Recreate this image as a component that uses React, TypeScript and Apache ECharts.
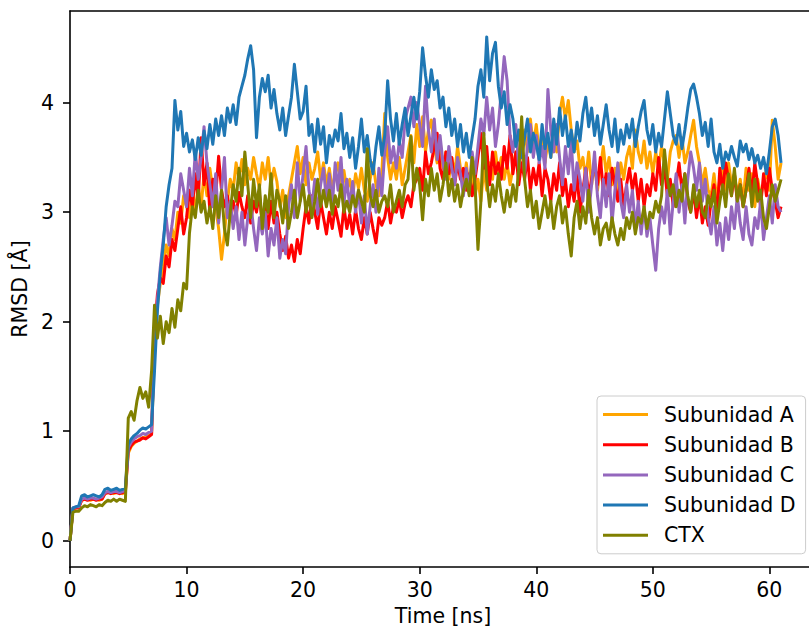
import React, { useEffect, useRef } from "react";
import * as echarts from "echarts";

// Sampling step of the trajectory (ns) — one value every 0.25 ns from 0 to 61 ns
const STEP_NS = 0.25;

const subA: number[] = [
  0, 0.29, 0.30, 0.31, 0.37, 0.38, 0.38, 0.37, 0.38, 0.38, 0.37, 0.38, 0.43, 0.44, 0.44, 0.43,
  0.44, 0.44, 0.43, 0.44, 0.80, 0.86, 0.89, 0.91, 0.93, 0.94, 0.95, 0.96, 0.98, 1.75, 2.15, 2.35,
  2.50, 2.70, 2.60, 2.85, 2.75, 3.00, 2.90, 3.15, 3.05, 2.95, 3.20, 3.00, 3.25, 3.05, 3.35, 3.15,
  3.40, 3.20, 3.05, 2.85, 2.57, 2.80, 3.10, 3.30, 3.20, 3.45, 3.30, 3.48, 3.25, 3.40, 3.30, 3.50,
  3.35, 3.22, 3.45, 3.30, 3.50, 3.25, 3.40, 3.28, 3.05, 3.20, 2.95, 3.15, 3.30, 3.45, 3.60, 3.35,
  3.50, 3.25, 3.45, 3.30, 3.40, 3.55, 3.30, 3.45, 3.25, 3.40, 3.20, 3.35, 3.45, 3.25, 3.38, 3.20,
  3.30, 3.15, 3.35, 3.22, 3.40, 3.20, 3.10, 3.30, 3.45, 3.25, 3.15, 3.35, 3.90, 3.50, 3.30, 3.45,
  3.30, 3.50, 3.25, 3.40, 3.55, 3.70, 3.45, 3.80, 3.60, 3.87, 3.55, 3.75, 3.84, 3.60, 3.45, 3.65,
  3.40, 3.55, 3.30, 3.50, 3.35, 3.60, 3.40, 3.25, 3.45, 3.20, 3.35, 3.15, 3.30, 3.10, 3.40, 3.20,
  3.45, 3.30, 3.55, 3.35, 3.50, 3.30, 3.45, 3.25, 3.40, 3.55, 3.35, 3.60, 3.75, 3.55, 3.85, 3.60,
  3.80, 3.55, 3.70, 3.45, 3.65, 3.50, 3.75, 3.55, 3.90, 4.05, 3.85, 4.02, 3.75, 3.55, 3.65, 3.40,
  3.50, 3.30, 3.55, 3.25, 3.45, 3.20, 3.40, 3.60, 3.35, 3.50, 3.25, 3.40, 3.20, 3.45, 3.30, 3.50,
  3.60, 3.40, 3.75, 3.55, 3.45, 3.65, 3.40, 3.55, 3.35, 3.55, 3.40, 3.60, 3.45, 3.30, 3.55, 3.65,
  3.70, 3.50, 3.68, 3.45, 3.55, 3.70, 3.84, 3.60, 3.45, 3.25, 3.40, 3.20, 3.15, 3.35, 3.10, 3.30,
  3.40, 3.20, 3.45, 3.25, 3.35, 3.15, 3.30, 3.10, 3.40, 3.20, 3.35, 3.05, 3.30, 3.15, 3.25, 3.40,
  3.20, 3.84, 3.60, 3.30, 3.45,
];

const subB: number[] = [
  0, 0.29, 0.30, 0.30, 0.37, 0.38, 0.37, 0.38, 0.38, 0.37, 0.38, 0.38, 0.43, 0.44, 0.43, 0.44,
  0.44, 0.43, 0.44, 0.45, 0.82, 0.87, 0.90, 0.91, 0.92, 0.94, 0.93, 0.95, 0.97, 1.90, 2.25, 2.40,
  2.35, 2.60, 2.50, 2.75, 2.65, 2.85, 3.05, 2.80, 2.95, 3.20, 3.05, 3.35, 3.10, 3.68, 3.25, 3.45,
  3.00, 3.30, 3.15, 3.51, 3.20, 3.05, 3.15, 2.98, 3.10, 2.96, 3.18, 3.05, 2.95, 3.15, 2.90, 3.10,
  3.00, 3.17, 2.88, 3.05, 2.85, 3.10, 2.90, 3.00, 2.80, 2.65, 2.78, 2.58, 2.70, 2.55, 2.75, 2.62,
  2.85, 3.05, 2.90, 3.15, 3.00, 2.85, 3.10, 2.95, 2.80, 3.00, 2.85, 3.05, 2.92, 2.78, 3.05, 2.85,
  2.98, 2.80, 3.02, 2.85, 2.75, 2.95, 2.80, 3.00, 2.85, 2.72, 2.95, 2.88, 2.95, 3.10, 2.90, 3.05,
  3.00, 3.12, 2.95, 3.08, 3.15, 3.05, 3.25, 3.30, 3.40, 3.20, 3.55, 3.35, 3.45, 3.60, 3.72, 3.40,
  3.30, 3.55, 3.35, 3.50, 3.25, 3.45, 3.30, 3.40, 3.20, 3.35, 3.15, 3.30, 3.50, 3.72, 3.40, 3.60,
  3.25, 3.55, 3.35, 3.45, 3.30, 3.60, 3.40, 3.70, 3.35, 3.55, 3.25, 3.45, 3.30, 3.50, 3.20, 3.40,
  3.25, 3.45, 3.15, 3.40, 3.30, 3.10, 3.35, 3.20, 3.45, 3.15, 3.30, 3.05, 3.25, 3.10, 3.35, 3.00,
  3.20, 3.40, 3.15, 3.30, 3.45, 3.25, 3.50, 3.20, 3.35, 3.15, 3.40, 3.25, 3.10, 3.30, 3.05, 3.25,
  3.40, 3.20, 3.35, 3.10, 3.30, 3.05, 3.25, 3.15, 3.35, 3.20, 3.50, 3.25, 3.40, 3.15, 3.30, 3.05,
  3.25, 3.45, 3.20, 3.35, 3.10, 3.00, 3.20, 2.95, 3.15, 2.90, 3.05, 2.88, 3.10, 3.25, 2.95, 3.40,
  3.20, 3.45, 3.30, 3.15, 3.35, 3.10, 3.25, 3.05, 3.20, 3.40, 3.15, 3.45, 3.25, 3.05, 3.35, 3.15,
  3.40, 3.20, 3.10, 2.95, 3.05,
];

const subC: number[] = [
  0, 0.30, 0.31, 0.31, 0.38, 0.39, 0.38, 0.39, 0.39, 0.38, 0.39, 0.40, 0.44, 0.45, 0.44, 0.45,
  0.45, 0.44, 0.45, 0.46, 0.85, 0.90, 0.93, 0.95, 0.96, 0.98, 0.97, 0.99, 1.00, 1.85, 2.20, 2.50,
  2.75, 2.95, 2.70, 2.88, 3.10, 3.05, 3.35, 3.20, 3.05, 3.40, 3.15, 3.55, 3.30, 3.50, 3.78, 3.45,
  3.25, 3.05, 3.35, 2.90, 3.20, 3.50, 2.95, 3.10, 2.85, 3.05, 2.75, 3.00, 2.70, 2.95, 3.10, 2.85,
  2.65, 2.95, 2.80, 3.00, 2.60, 2.85, 2.70, 2.95, 2.58, 2.75, 2.62, 3.05, 3.25, 2.95, 3.45, 3.10,
  3.35, 3.60, 3.20, 3.05, 3.30, 2.98, 3.25, 3.40, 3.10, 3.35, 3.05, 3.45, 3.20, 3.50, 3.08, 3.30,
  3.05, 3.28, 3.00, 3.20, 2.90, 3.15, 2.80, 3.05, 3.25, 3.00, 3.40, 3.15, 3.55, 3.78, 3.45, 3.60,
  3.40, 3.65, 3.50, 3.85, 3.95, 4.05, 3.78, 4.00, 3.80, 3.60, 4.15, 3.75, 3.55, 3.85, 3.48, 3.70,
  3.45, 3.30, 3.60, 3.40, 3.25, 3.50, 3.35, 3.15, 3.40, 3.20, 3.55, 3.35, 3.60, 3.85, 3.70, 4.05,
  3.75, 3.95, 3.60, 3.80, 4.10, 4.42, 4.20, 3.70, 3.55, 3.80, 3.40, 3.65, 3.35, 3.60, 3.80, 3.50,
  3.70, 3.45, 3.60, 3.40, 4.12, 3.75, 3.55, 3.80, 3.50, 3.25, 3.60, 3.35, 3.65, 3.20, 3.45, 3.30,
  3.10, 3.40, 3.00, 3.25, 3.55, 3.15, 2.95, 3.30, 3.05, 3.35, 2.90, 3.20, 3.45, 3.10, 2.95, 3.25,
  3.00, 3.20, 2.85, 3.10, 2.80, 3.05, 2.78, 2.95, 2.70, 2.47, 2.85, 3.05, 2.90, 3.20, 2.80, 3.10,
  3.35, 3.00, 3.25, 2.90, 3.30, 3.55, 3.40, 3.20, 3.45, 3.10, 3.30, 2.95, 2.80, 3.05, 2.70, 2.90,
  2.65, 2.95, 2.75, 3.05, 2.85, 3.15, 2.90, 2.75, 3.05, 2.80, 2.70, 2.95, 2.85, 3.10, 2.75, 2.95,
  3.15, 2.90, 3.25, 3.05, 3.00,
];

const subD: number[] = [
  0, 0.30, 0.31, 0.32, 0.41, 0.42, 0.40, 0.41, 0.42, 0.41, 0.40, 0.42, 0.47, 0.48, 0.46, 0.47,
  0.48, 0.46, 0.47, 0.48, 0.88, 0.93, 0.96, 0.98, 1.01, 1.03, 1.02, 1.04, 1.06, 1.55, 2.10, 2.45,
  2.70, 3.05, 3.25, 3.40, 4.02, 3.75, 3.92, 3.60, 3.72, 3.55, 3.66, 3.48, 3.68, 3.52, 3.74, 3.58,
  3.80, 3.62, 3.85, 3.70, 3.88, 3.70, 3.95, 3.82, 3.98, 3.80, 4.05, 4.15, 4.25, 4.40, 4.52, 4.30,
  3.68, 4.05, 4.22, 4.10, 4.25, 3.95, 4.12, 3.90, 3.75, 3.95, 3.70, 3.88, 4.05, 4.35, 4.10, 3.85,
  3.92, 4.15, 3.70, 3.80, 3.55, 3.85, 3.62, 3.78, 3.45, 3.70, 3.60, 3.75, 3.65, 3.90, 3.58, 3.72,
  3.50, 3.68, 3.40, 3.60, 3.85, 3.55, 3.70, 3.48, 3.35, 3.60, 3.78, 3.52, 3.70, 4.20, 3.85, 3.65,
  3.90, 3.62, 3.80, 3.95, 3.70, 3.88, 4.05, 3.85, 4.10, 4.50, 4.25, 4.05, 4.30, 4.12, 4.20, 3.95,
  4.05, 3.78, 3.95, 3.70, 3.85, 3.60, 3.80, 3.55, 3.72, 3.50, 3.68, 3.85, 4.15, 4.30, 4.05, 4.60,
  4.20, 4.45, 4.55, 4.15, 3.95, 4.10, 3.80, 3.98, 3.85, 3.60, 3.75, 3.50, 3.68, 3.85, 3.55, 3.72,
  3.62, 3.48, 3.80, 3.58, 3.72, 3.50, 3.85, 3.62, 3.95, 3.70, 3.88, 3.60, 3.75, 3.55, 3.82, 3.65,
  3.90, 4.05, 3.78, 3.95, 3.70, 3.88, 3.62, 3.80, 3.98, 3.75, 3.60, 3.85, 3.55, 3.75, 3.62, 3.80,
  3.68, 3.85, 3.60, 3.78, 3.92, 4.02, 3.75, 3.62, 3.80, 3.55, 3.72, 3.60, 3.85, 4.10, 3.90, 3.70,
  3.62, 3.80, 3.58, 3.75, 3.95, 4.12, 4.17, 4.05, 3.90, 3.70, 3.82, 3.60, 3.85, 3.55, 3.45, 3.62,
  3.40, 3.55, 3.48, 3.60, 3.50, 3.42, 3.65, 3.55, 3.62, 3.48, 3.58, 3.45, 3.52, 3.40, 3.50, 3.35,
  3.55, 3.78, 3.85, 3.70, 3.45,
];

const ctx: number[] = [
  0, 0.26, 0.27, 0.27, 0.30, 0.32, 0.31, 0.33, 0.32, 0.31, 0.33, 0.32, 0.35, 0.37, 0.36, 0.38,
  0.36, 0.38, 0.37, 0.36, 1.12, 1.18, 1.10, 1.28, 1.40, 1.30, 1.36, 1.22, 1.55, 2.15, 1.85, 2.05,
  1.80, 2.00, 1.90, 2.12, 1.95, 2.20, 2.10, 2.35, 2.30, 2.81, 3.05, 2.95, 3.20, 3.00, 3.10, 2.90,
  3.05, 2.85, 3.15, 2.95, 3.20, 2.85, 2.70, 3.00, 3.25, 3.10, 3.40, 3.15, 3.55, 3.25, 2.95, 3.30,
  3.05, 3.25, 2.85, 3.15, 3.00, 3.35, 2.95, 3.20, 3.10, 2.90, 3.15, 2.85, 3.00, 3.20, 2.95, 3.10,
  3.25, 3.00, 3.15, 2.95, 3.10, 3.30, 3.05, 3.20, 3.05, 3.20, 2.98, 3.15, 3.05, 3.25, 3.00, 3.10,
  3.00, 3.15, 3.05, 3.20, 3.10, 3.00, 3.58, 3.15, 3.05, 3.20, 3.00, 3.10, 3.15, 3.05, 3.25, 3.00,
  3.10, 3.20, 3.05, 3.25, 3.30, 3.69, 3.20, 3.40, 3.25, 2.93, 3.30, 3.15, 3.40, 3.20, 3.35, 3.10,
  3.25, 3.45, 3.15, 3.30, 3.10, 3.25, 3.05, 3.20, 3.30, 3.15, 3.50, 3.25, 2.66, 3.10, 3.72, 3.30,
  3.05, 3.25, 3.10, 3.35, 3.15, 3.00, 3.20, 3.05, 3.25, 3.10, 3.40, 3.87, 3.30, 3.05, 3.20, 2.95,
  3.10, 2.85, 3.00, 3.15, 2.95, 3.10, 2.85, 3.05, 3.15, 2.90, 3.05, 2.80, 2.60, 2.95, 3.10, 2.85,
  3.05, 2.90, 3.20, 2.95, 2.80, 2.95, 2.70, 2.85, 2.90, 2.75, 2.95, 2.80, 2.70, 2.85, 2.75, 2.95,
  2.85, 3.00, 2.80, 2.95, 2.90, 3.05, 2.85, 3.00, 2.95, 3.10, 3.00, 3.15, 3.57, 3.30, 3.15, 3.25,
  3.05, 3.20, 3.10, 3.35, 3.15, 3.00, 3.25, 3.05, 3.20, 3.00, 2.95, 3.15, 3.05, 3.20, 2.90, 3.10,
  3.25, 3.05, 3.35, 3.15, 3.40, 3.10, 3.25, 3.05, 3.20, 3.35, 3.05, 3.30, 3.10, 3.20, 2.95, 2.85,
  3.05, 3.25, 3.10, 3.20, 3.30,
];

const seriesNames = ["Subunidad A", "Subunidad B", "Subunidad C", "Subunidad D", "CTX"];
const seriesValues = [subA, subB, subC, subD, ctx];
const seriesColors = ["#ffa500", "#ff0000", "#9467bd", "#1f77b4", "#808000"];
const xTicks = [0, 10, 20, 30, 40, 50, 60];
const yTicks = [0, 1, 2, 3, 4];

const FONT = "DejaVu Sans";

export default function App() {
  const ref = useRef<HTMLDivElement>(null);
  useEffect(() => {
    document.body.style.margin = "0";
    const chart = echarts.init(ref.current!, null, { renderer: "svg" });
    const axisLineStyle = { color: "#000", width: 1.6 };
    chart.setOption({
      animation: false,
      backgroundColor: "#fff",
      textStyle: { fontFamily: FONT },
      grid: {
        left: 70,
        top: 11,
        width: 746,
        height: 556,
        containLabel: false,
        outerBoundsMode: "none",
      },
      xAxis: [
        {
          type: "value",
          min: 0,
          max: 64,
          name: "Time [ns]",
          nameLocation: "middle",
          nameGap: 38,
          nameTextStyle: { fontSize: 20.5, color: "#000", fontFamily: FONT },
          axisLine: { show: true, onZero: false, lineStyle: axisLineStyle },
          axisTick: { show: true, length: 7, customValues: xTicks, lineStyle: axisLineStyle },
          axisLabel: {
            customValues: xTicks,
            margin: 12,
            fontSize: 20.5,
            color: "#000",
            fontFamily: FONT,
          },
          splitLine: { show: false },
        },
        {
          type: "value",
          position: "top",
          min: 0,
          max: 64,
          axisLine: { show: true, onZero: false, lineStyle: axisLineStyle },
          axisTick: { show: false },
          axisLabel: { show: false },
          splitLine: { show: false },
        },
      ],
      yAxis: {
        type: "value",
        min: -0.2395,
        max: 4.8365,
        name: "RMSD [Å]",
        nameLocation: "middle",
        nameGap: 30,
        nameTextStyle: { fontSize: 20.5, color: "#000", fontFamily: FONT },
        axisLine: { show: true, onZero: false, lineStyle: axisLineStyle },
        axisTick: { show: true, length: 7, customValues: yTicks, lineStyle: axisLineStyle },
        axisLabel: {
          customValues: yTicks,
          margin: 16,
          fontSize: 20.5,
          color: "#000",
          fontFamily: FONT,
          padding: [5, 0, 0, 0],
        },
        splitLine: { show: false },
      },
      legend: {
        orient: "vertical",
        left: 597,
        top: 396,
        padding: [8, 10, 8, 6],
        itemGap: 9.2,
        itemWidth: 45,
        itemHeight: 3,
        icon: "rect",
        backgroundColor: "rgba(255,255,255,0.8)",
        borderColor: "#cccccc",
        borderWidth: 1,
        borderRadius: 4,
        textStyle: { fontSize: 20.5, color: "#000", fontFamily: FONT, padding: [0, 0, 0, 11] },
        data: seriesNames,
      },
      series: seriesNames.map((name, k) => ({
        name,
        type: "line",
        xAxisIndex: 0,
        showSymbol: false,
        symbol: "none",
        color: seriesColors[k],
        lineStyle: { color: seriesColors[k], width: 3, join: "round" },
        data: seriesValues[k].map((v, i) => [i * STEP_NS, v]),
      })),
    });
    return () => chart.dispose();
  }, []);
  return <div ref={ref} style={{ width: 809, height: 628 }} />;
}
